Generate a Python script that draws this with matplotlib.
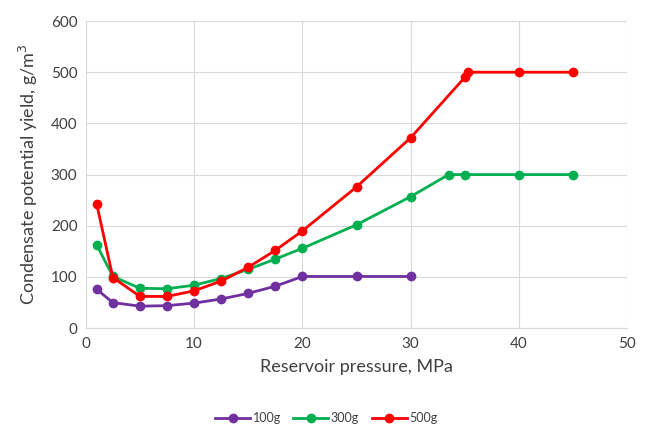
import matplotlib
matplotlib.use("Agg")
import matplotlib.pyplot as plt

plt.rcParams['font.family'] = ['Lato', 'DejaVu Sans']

x_100 = [1, 2.5, 5, 7.5, 10, 12.5, 15, 17.5, 20, 25, 30]
y_100 = [76, 50, 43, 44, 49, 57, 68, 82, 101, 101, 101]

x_300 = [1, 2.5, 5, 7.5, 10, 12.5, 15, 17.5, 20, 25, 30, 33.5, 35, 40, 45]
y_300 = [163, 101, 78, 77, 84, 97, 115, 135, 156, 202, 257, 300, 300, 300, 300]

x_500 = [1, 2.5, 5, 7.5, 10, 12.5, 15, 17.5, 20, 25, 30, 35, 35.3, 40, 45]
y_500 = [243, 99, 62, 62, 73, 92, 119, 152, 190, 276, 372, 490, 500, 500, 500]

fig = plt.figure(figsize=(6.5, 4.29), dpi=100)
ax = fig.add_axes([0.132, 0.235, 0.833, 0.716])

ax.plot(x_100, y_100, color='#7030A0', marker='o', ms=6, lw=2, label='100g')
ax.plot(x_300, y_300, color='#00B050', marker='o', ms=6, lw=2, label='300g')
ax.plot(x_500, y_500, color='#FF0000', marker='o', ms=6, lw=2, label='500g')

ax.set_xlim(0, 50)
ax.set_ylim(0, 600)
ax.set_xticks(range(0, 51, 10))
ax.set_yticks(range(0, 601, 100))
ax.grid(True, color='#d9d9d9', lw=0.8)
ax.set_axisbelow(True)
for s in ['top', 'right', 'left']:
    ax.spines[s].set_visible(False)
ax.spines['bottom'].set_color('#d9d9d9')
ax.tick_params(length=0, labelsize=11, colors='#404040', pad=6)

ax.set_xlabel('Reservoir pressure, MPa', fontsize=13, color='#404040', labelpad=6)
ax.set_ylabel('Condensate potential yield, g/m$^3$', fontsize=13, color='#404040', labelpad=8)

fig.legend(loc='lower center', bbox_to_anchor=(0.502, -0.015), ncol=3, frameon=False,
           fontsize=9, handlelength=2.8, columnspacing=1.0, handletextpad=0.2,
           labelcolor='#404040')

fig.savefig('out.png', dpi=100)
